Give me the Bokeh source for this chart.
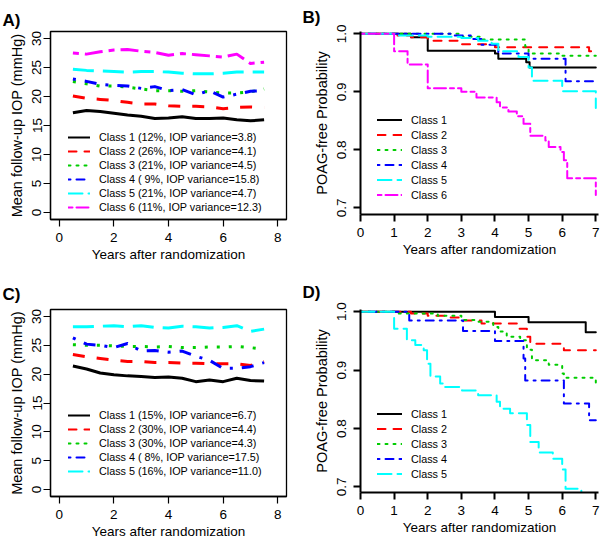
import numpy as np
from bokeh.plotting import figure
from bokeh.models import (Range1d, FixedTicker, Legend, LegendItem, Title,
                          PrintfTickFormatter)
from bokeh.layouts import column, row
from bokeh.embed import file_html
from bokeh.resources import INLINE

FONT = "Liberation Sans"

# ---------------- data ----------------
years = [0.5, 1.0, 1.5, 2.0, 2.5, 3.0, 3.5, 4.0, 4.5, 5.0, 5.5, 6.0, 6.5, 7.0, 7.5]

a_class1 = [17.2, 17.6, 17.4, 17.1, 16.8, 16.6, 16.2, 16.3, 16.5, 16.2, 16.2, 16.3, 16.0, 15.8, 16.0]
a_class2 = [20.1, 19.7, 19.5, 19.3, 19.0, 18.7, 18.7, 18.4, 18.3, 18.3, 18.2, 17.9, 18.1, 18.2, 18.1]
a_class3 = [22.6, 22.2, 21.8, 21.8, 21.6, 21.3, 21.0, 21.0, 20.9, 21.0, 20.8, 20.6, 20.6, 20.8, 21.3]
a_class4 = [23.0, 22.6, 22.1, 21.9, 21.8, 21.4, 21.7, 21.0, 21.2, 20.3, 21.0, 19.9, 20.4, 20.9, 21.0]
a_class5 = [24.7, 24.5, 24.4, 24.3, 24.2, 24.3, 24.3, 24.2, 24.0, 23.9, 23.9, 24.0, 24.2, 24.2, 24.2]
a_class6 = [27.5, 27.3, 27.7, 28.0, 28.1, 27.8, 27.6, 27.1, 27.4, 27.2, 27.0, 26.8, 27.3, 25.7, 25.9]
a_labels = ["Class 1 (12%, IOP variance=3.8)", "Class 2 (26%, IOP variance=4.1)",
            "Class 3 (21%, IOP variance=4.5)", "Class 4 ( 9%, IOP variance=15.8)",
            "Class 5 (21%, IOP variance=4.7)", "Class 6 (11%, IOP variance=12.3)"]

c_class1 = [21.4, 20.9, 20.2, 19.9, 19.7, 19.6, 19.4, 19.5, 19.3, 18.7, 19.0, 18.7, 19.3, 18.9, 18.8]
c_class2 = [23.4, 23.0, 22.7, 22.4, 22.2, 22.2, 22.0, 22.0, 21.9, 21.9, 21.8, 21.8, 21.8, 21.5, 22.2]
c_class3 = [25.1, 25.0, 25.0, 24.9, 24.8, 24.8, 24.7, 24.8, 24.6, 24.6, 24.7, 24.7, 24.8, 24.6, 24.3]
c_class4 = [26.3, 25.2, 25.0, 24.6, 25.3, 24.0, 24.1, 23.8, 24.0, 23.1, 22.4, 21.0, 21.0, 21.3, 22.0]
c_class5 = [28.2, 28.2, 28.3, 28.4, 28.2, 28.4, 28.1, 28.0, 28.3, 28.2, 28.0, 28.1, 28.4, 27.4, 27.8]
c_labels = ["Class 1 (15%, IOP variance=6.7)", "Class 2 (30%, IOP variance=4.4)",
            "Class 3 (30%, IOP variance=4.3)", "Class 4 ( 8%, IOP variance=17.5)",
            "Class 5 (16%, IOP variance=11.0)"]

# Kaplan-Meier curves, panel B
b1_t = [0, 1.5, 2.0, 4.0, 4.1, 4.93, 5.03, 7.0]
b1_s = [1.0, 0.994, 0.971, 0.966, 0.957, 0.951, 0.942, 0.942]
b2_t = [0, 1.1, 1.5, 2.0, 3.0, 4.0, 6.8, 7.0]
b2_s = [1.0, 0.997, 0.994, 0.988, 0.982, 0.977, 0.970, 0.970]
b3_t = [0, 3.0, 3.6, 4.9, 5.0, 6.0, 7.0]
b3_s = [1.0, 0.995, 0.990, 0.978, 0.966, 0.962, 0.962]
b4_t = [0, 2.8, 3.3, 3.6, 4.1, 5.0, 6.1, 7.0]
b4_s = [1.0, 0.997, 0.991, 0.981, 0.966, 0.957, 0.918, 0.918]
b5_t = [0, 1.1, 2.0, 3.0, 3.5, 3.9, 4.1, 4.7, 5.0, 5.1, 6.0, 7.0, 7.0]
b5_s = [1.0, 0.997, 0.995, 0.993, 0.988, 0.983, 0.970, 0.960, 0.942, 0.919, 0.901, 0.901, 0.872]
b6_t = [0, 1.0, 1.4, 2.0, 3.0, 3.45, 4.05, 4.15, 4.4, 4.65, 4.85, 5.05, 5.5, 5.6,
        5.95, 6.05, 6.15, 7.0, 7.0]
b6_s = [1.0, 0.970, 0.947, 0.906, 0.900, 0.890, 0.882, 0.873, 0.866, 0.858, 0.845, 0.824, 0.816, 0.805,
        0.796, 0.782, 0.751, 0.751, 0.722]
b_labels = ["Class 1", "Class 2", "Class 3", "Class 4", "Class 5", "Class 6"]

# Kaplan-Meier curves, panel D
d1_t = [0, 4.0, 5.0, 6.7, 7.0]
d1_s = [1.0, 0.991, 0.982, 0.965, 0.965]
d2_t = [0, 1.5, 2.0, 2.6, 3.05, 3.6, 4.7, 4.95, 5.05, 6.05, 7.0]
d2_s = [1.0, 0.997, 0.993, 0.990, 0.985, 0.980, 0.971, 0.957, 0.945, 0.934, 0.934]
d3_t = [0, 1.1, 2.3, 3.0, 3.5, 3.95, 4.1, 4.35, 4.75, 4.95, 5.1, 5.6, 6.0, 6.05, 7.0, 7.0]
d3_s = [1.0, 0.997, 0.993, 0.986, 0.983, 0.974, 0.966, 0.957, 0.951, 0.935, 0.917, 0.909, 0.894, 0.887,
        0.887, 0.873]
d4_t = [0, 1.45, 3.05, 4.0, 4.85, 4.9, 6.05, 6.8, 7.0]
d4_s = [1.0, 0.985, 0.967, 0.950, 0.920, 0.882, 0.843, 0.814, 0.814]
d5_t = [0, 1.0, 1.38, 1.63, 1.88, 1.98, 2.08, 2.37, 2.45, 3.02, 3.5, 4.05, 4.15, 4.45,
        4.95, 5.05, 5.3, 5.72, 6.0, 6.1, 6.57]
d5_s = [1.0, 0.971, 0.951, 0.943, 0.934, 0.911, 0.889, 0.877, 0.871, 0.865, 0.857, 0.846, 0.834, 0.826,
        0.806, 0.777, 0.759, 0.748, 0.730, 0.697, 0.680]
d_labels = ["Class 1", "Class 2", "Class 3", "Class 4", "Class 5"]

iop_ticks = [0, 5, 10, 15, 20, 25, 30]
iop_year_ticks = [0, 2, 4, 6, 8]
km_ticks = [0.7, 0.8, 0.9, 1.0]
km_year_ticks = [0, 1, 2, 3, 4, 5, 6, 7]

# ---------------- styles ----------------
colors = ["#000000", "#FF0000", "#00CD00", "#0000FF", "#00FFFF", "#FF00FF"]
dash_thick = ["solid", "12 12", "3 9", "3 9 12 9", "21 9", "6 6 18 6"]
dash_thin = ["solid", "8 8", "2 6", "2 6 8 6", "14 6", "4 4 12 4"]


def base_fig(fw, fh, left, right, top, bottom, xr, yr, tag, tag_off, tag_stand):
    p = figure(frame_width=fw, frame_height=fh, x_range=Range1d(*xr), y_range=Range1d(*yr),
               output_backend="svg", toolbar_location=None,
               min_border_left=left, min_border_right=right,
               min_border_top=top, min_border_bottom=bottom)
    p.title = Title(text=tag, align="left", offset=tag_off, standoff=tag_stand,
                    text_font=FONT, text_font_style="bold", text_font_size="17px",
                    text_color="black")
    p.xgrid.visible = False
    p.ygrid.visible = False
    p.background_fill_color = "white"
    p.border_fill_color = "white"
    return p


def style_axes(p, xticks, yticks, boxed, ylab, ystand, fmt):
    for ax in (p.xaxis[0], p.yaxis[0]):
        ax.major_tick_out = 7
        ax.major_tick_in = 0
        ax.minor_tick_out = 0
        ax.minor_tick_in = 0
        ax.minor_tick_line_color = None
        ax.major_tick_line_color = "black"
        ax.major_label_text_font = FONT
        ax.major_label_text_font_size = "13.5px"
        ax.major_label_text_color = "black"
        ax.axis_label_text_font = FONT
        ax.axis_label_text_font_style = "normal"
        ax.axis_label_text_color = "black"
        ax.axis_line_color = "black"
        if boxed:
            ax.axis_line_width = 1.3
            ax.major_tick_line_width = 1.2
        else:
            ax.axis_line_width = 2
            ax.major_tick_line_width = 2
    p.xaxis[0].ticker = FixedTicker(ticks=xticks)
    p.yaxis[0].ticker = FixedTicker(ticks=yticks)
    if fmt is not None:
        p.yaxis[0].formatter = PrintfTickFormatter(format=fmt)
    p.xaxis[0].axis_label = "Years after randomization"
    p.xaxis[0].axis_label_text_font_size = "13.5px"
    p.xaxis[0].major_label_standoff = 6
    p.xaxis[0].axis_label_standoff = 2
    p.yaxis[0].axis_label = ylab
    p.yaxis[0].axis_label_text_font_size = "14.5px"
    p.yaxis[0].major_label_orientation = "vertical"
    p.yaxis[0].major_label_standoff = ystand
    p.yaxis[0].axis_label_standoff = 5
    if boxed:
        p.outline_line_color = "black"
        p.outline_line_width = 1.3
        p.outline_line_alpha = 1.0
    else:
        p.outline_line_color = None


def add_legend(p, items, loc, glyph_w, item_h):
    leg = Legend(items=items, location=loc, glyph_width=glyph_w, glyph_height=item_h,
                 label_height=item_h, label_standoff=9, spacing=0, padding=0, margin=0,
                 border_line_color=None, background_fill_alpha=0,
                 label_text_font=FONT, label_text_font_size="10.8px",
                 label_text_color="black")
    p.add_layout(leg)


def iop_panel(series, labels, top, fh, bottom, tag, tag_stand, leg_y):
    p = base_fig(236, fh, 50, 14, top, bottom, (-0.32, 8.32), (-1.2, 31.2), tag, -48, tag_stand)
    items = []
    for i, ys in enumerate(series):
        p.line(years, ys, line_color=colors[i], line_width=3, line_dash=dash_thick[i],
               line_cap="butt", line_join="round")
        r = p.line(years[:1], ys[:1], line_color=colors[i], line_width=2,
                   line_dash=dash_thin[i], line_cap="round")
        items.append(LegendItem(label=labels[i], renderers=[r]))
    style_axes(p, iop_year_ticks, iop_ticks, True, "Mean follow-up IOP (mmHg)", 2, None)
    add_legend(p, items, (18, leg_y), 22, 14)
    return p


def km_panel(curves, labels, top, fh, bottom, yr, tag, tag_stand, leg_y):
    p = base_fig(238, fh, 60, 2, top, bottom, (0, 7.08), yr, tag, -58, tag_stand)
    items = []
    for i, (t, s) in enumerate(curves):
        r = p.step(t, s, mode="after", line_color=colors[i], line_width=2,
                   line_dash=dash_thin[i], line_cap="round", line_join="round")
        items.append(LegendItem(label=labels[i], renderers=[r]))
    style_axes(p, km_year_ticks, km_ticks, False, "POAG-free Probability", 7, "%.1f")
    add_legend(p, items, (17, leg_y), 25, 15)
    return p


pA = iop_panel([a_class1, a_class2, a_class3, a_class4, a_class5, a_class6], a_labels,
               26, 188, 56, "A)", 4, 5)
pB = km_panel([(b1_t, b1_s), (b2_t, b2_s), (b3_t, b3_s), (b4_t, b4_s), (b5_t, b5_s), (b6_t, b6_s)],
              b_labels, 31, 183, 56, (0.6884, 1.004), "B)", 9, 12)
pC = iop_panel([c_class1, c_class2, c_class3, c_class4, c_class5], c_labels,
               35, 187, 49, "C)", 12, 18)
pD = km_panel([(d1_t, d1_s), (d2_t, d2_s), (d3_t, d3_s), (d4_t, d4_s), (d5_t, d5_s)],
              d_labels, 39, 183, 49, (0.6904, 1.0038), "D)", 16, 11)

layout = column(row(pA, pB, spacing=0), row(pC, pD, spacing=0), spacing=0)

open("out.html", "w").write(file_html(layout, INLINE, title="IOP trajectories"))
